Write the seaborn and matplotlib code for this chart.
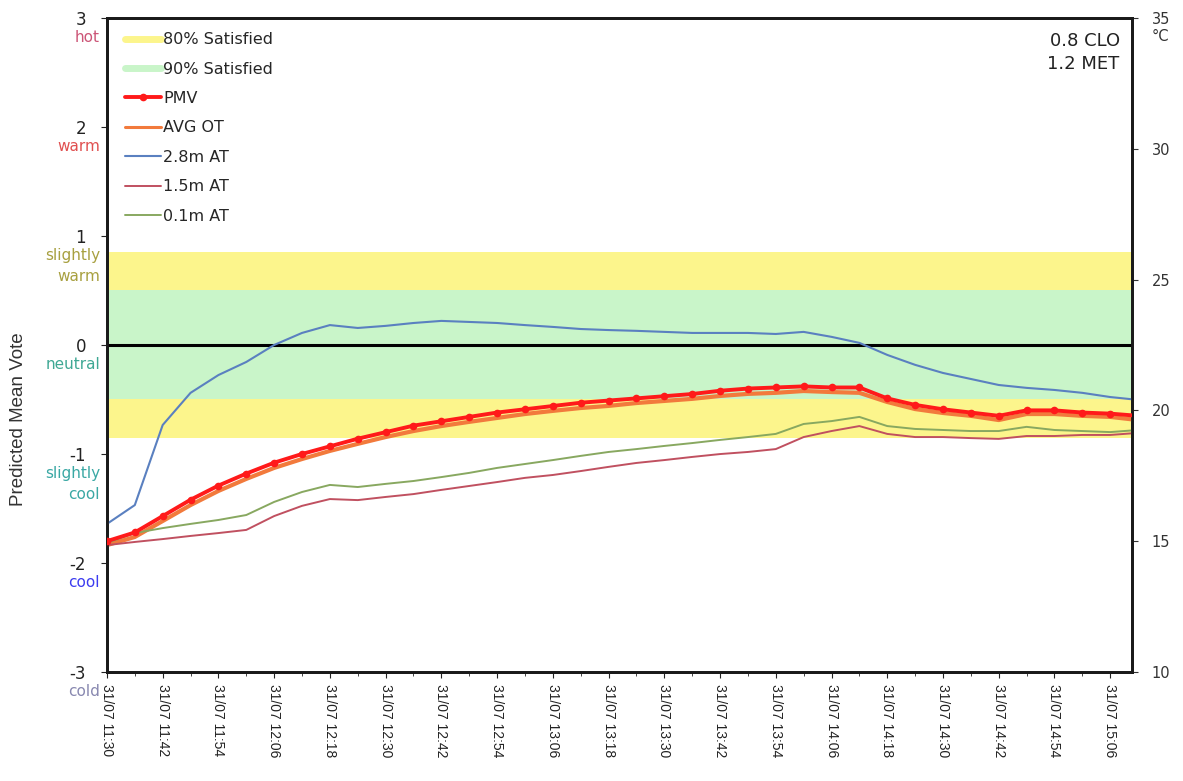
import numpy as np
import pandas as pd
import matplotlib
matplotlib.use("Agg")
import matplotlib.pyplot as plt
import matplotlib.dates as mdates
from matplotlib.lines import Line2D
import seaborn as sns

# ---- logged data (6-minute samples, 31/07) ----
times = pd.date_range("2015-07-31 11:30", periods=38, freq="6min")

pmv = [-1.80, -1.72, -1.57, -1.42, -1.29, -1.18, -1.08, -1.00, -0.93, -0.86,
       -0.80, -0.74, -0.70, -0.66, -0.62, -0.59, -0.56, -0.53, -0.51, -0.49,
       -0.47, -0.45, -0.42, -0.40, -0.39, -0.38, -0.39, -0.39, -0.49, -0.55,
       -0.59, -0.62, -0.65, -0.60, -0.60, -0.62, -0.63, -0.65]

avg_ot = [14.85, 15.16, 15.77, 16.38, 16.92, 17.38, 17.80, 18.14, 18.45, 18.72,
          18.98, 19.21, 19.40, 19.56, 19.71, 19.86, 19.98, 20.09, 20.17, 20.28,
          20.36, 20.44, 20.55, 20.63, 20.67, 20.74, 20.70, 20.67, 20.32, 20.05,
          19.90, 19.79, 19.63, 19.86, 19.86, 19.79, 19.75, 19.63]

at_2_8m = [15.66, 16.38, 19.44, 20.67, 21.35, 21.85, 22.50, 22.96, 23.26, 23.15,
           23.23, 23.34, 23.42, 23.38, 23.34, 23.26, 23.19, 23.11, 23.07, 23.04,
           23.00, 22.96, 22.96, 22.96, 22.92, 23.00, 22.81, 22.58, 22.12, 21.74,
           21.43, 21.20, 20.97, 20.86, 20.78, 20.67, 20.51, 20.40]

at_1_5m = [14.85, 14.97, 15.08, 15.20, 15.31, 15.43, 15.96, 16.35, 16.61, 16.57,
           16.69, 16.80, 16.96, 17.11, 17.26, 17.42, 17.53, 17.68, 17.84, 17.99,
           18.10, 18.22, 18.33, 18.41, 18.52, 18.98, 19.21, 19.40, 19.10, 18.98,
           18.98, 18.94, 18.91, 19.02, 19.02, 19.06, 19.06, 19.14]

at_0_1m = [14.93, 15.31, 15.50, 15.66, 15.81, 16.00, 16.50, 16.88, 17.15, 17.07,
           17.19, 17.30, 17.45, 17.61, 17.80, 17.95, 18.10, 18.26, 18.41, 18.52,
           18.64, 18.75, 18.87, 18.98, 19.10, 19.48, 19.59, 19.75, 19.40, 19.29,
           19.25, 19.21, 19.21, 19.37, 19.25, 19.21, 19.17, 19.25]

# comfort bands (PMV limits)
band_80 = (-0.85, 0.85)
band_90 = (-0.5, 0.5)

# PMV scale
pmv_levels = [3, 2, 1, 0, -1, -2, -3]
sensations = ["hot", "warm", "slightly\nwarm", "neutral", "slightly\ncool", "cool", "cold"]
sensation_colors = ["#cc5577", "#e05050", "#a8a040", "#3fa894", "#3aa8a4", "#3c3cf0", "#8888b0"]

# temperature scale
temp_ticks = [10, 15, 20, 25, 30, 35]
temp_unit = "°C"

clothing_text = "0.8 CLO\n1.2 MET"

# ---- styling ----
sns.set_style("ticks")
plt.rcParams["font.family"] = ["DejaVu Sans"]

c_yellow = "#fcf58c"
c_green = "#c9f5c9"
c_pmv = "#ff1a1a"
c_ot = "#f27a3c"
c_28 = "#5a80c0"
c_15 = "#c05060"
c_01 = "#88a860"

fig = plt.figure(figsize=(11.83, 7.81), dpi=100)
ax = fig.add_axes([0.0904, 0.1396, 0.8665, 0.8374])
ax2 = ax.twinx()   # temperature scale (right)
ax3 = ax.twinx()   # PMV drawn above temperature lines

# bands and neutral line
ax.axhspan(*band_80, color=c_yellow, lw=0, zorder=0)
ax.axhspan(*band_90, color=c_green, lw=0, zorder=0.5)
ax.axhline(0, color="black", lw=2.2, zorder=3)
ax.set_ylim(-3, 3)

# temperature lines
sns.lineplot(x=times, y=avg_ot, ax=ax2, color=c_ot, lw=3.0)
sns.lineplot(x=times, y=at_2_8m, ax=ax2, color=c_28, lw=1.5)
sns.lineplot(x=times, y=at_1_5m, ax=ax2, color=c_15, lw=1.4)
sns.lineplot(x=times, y=at_0_1m, ax=ax2, color=c_01, lw=1.4)
ax2.set_ylim(10, 35)

# PMV
sns.lineplot(x=times, y=pmv, ax=ax3, color=c_pmv, lw=2.8, marker="o",
             markersize=5.5, markeredgewidth=0)
ax3.set_ylim(-3, 3)
ax3.axis("off")

# x axis
xmin = times[0]
xmax = times[0] + pd.Timedelta(minutes=220.7)
ax.set_xlim(xmin, xmax)
ax.xaxis.set_major_locator(mdates.MinuteLocator(byminute=[6, 18, 30, 42, 54]))
ax.xaxis.set_minor_locator(mdates.MinuteLocator(byminute=range(0, 60, 6)))
ax.xaxis.set_major_formatter(mdates.DateFormatter("%d/%m %H:%M"))
ax.tick_params(axis="x", which="major", labelrotation=-90, labelsize=10,
               labelfontfamily="Liberation Sans", length=4, pad=5,
               colors="#222222")
ax.tick_params(axis="x", which="minor", length=3)
ax.set_xlabel("")
ax3.set_xlim(xmin, xmax)

# left axis
ax.set_yticks(pmv_levels)
ax.set_yticklabels([str(v) for v in pmv_levels])
ax.tick_params(axis="y", labelsize=12, length=4, pad=11, colors="#222222")
ax.set_ylabel("Predicted Mean Vote", fontsize=13.5, family="Liberation Sans",
              color="#333333")
ax.yaxis.set_label_coords(-0.078, 0.387)

for lvl, txt, col in zip(pmv_levels, sensations, sensation_colors):
    ax.annotate(txt, xy=(0, lvl), xycoords=("axes fraction", "data"),
                xytext=(-5, -9), textcoords="offset points",
                ha="right", va="top", fontsize=11, color=col,
                linespacing=1.45, annotation_clip=False)

# right axis
ax2.set_yticks(temp_ticks)
ax2.set_yticklabels([str(t) for t in temp_ticks])
ax2.tick_params(axis="y", labelsize=10.5, length=4, pad=10, colors="#333333")
ax2.set_ylabel("")
ax2.annotate(temp_unit, xy=(1, temp_ticks[-1]), xycoords=("axes fraction", "data"),
             xytext=(14, -8), textcoords="offset points", ha="left", va="top",
             fontsize=10.5, color="#333333", annotation_clip=False)

for a in (ax, ax2):
    for s in a.spines.values():
        s.set_color("#1a1a1a")
        s.set_linewidth(2)
        s.set_visible(True)

# legend
handles = [
    Line2D([], [], color=c_yellow, lw=5),
    Line2D([], [], color=c_green, lw=5),
    Line2D([], [], color=c_pmv, lw=2.8, marker="o", markersize=5.5, markeredgewidth=0),
    Line2D([], [], color=c_ot, lw=2.2),
    Line2D([], [], color=c_28, lw=1.5),
    Line2D([], [], color=c_15, lw=1.4),
    Line2D([], [], color=c_01, lw=1.4),
]
labels = ["80% Satisfied", "90% Satisfied", "PMV", "AVG OT", "2.8m AT", "1.5m AT", "0.1m AT"]
ax3.legend(handles, labels, loc="upper left", bbox_to_anchor=(0.004, 1.0),
           frameon=False, fontsize=11.5, handlelength=2.2, handletextpad=0.15,
           labelspacing=0.9, borderaxespad=0.5)

ax3.text(0.988, 0.978, clothing_text, transform=ax3.transAxes, ha="right",
         va="top", fontsize=13, linespacing=1.3, color="#222222")

fig.savefig("out.png", dpi=100)
